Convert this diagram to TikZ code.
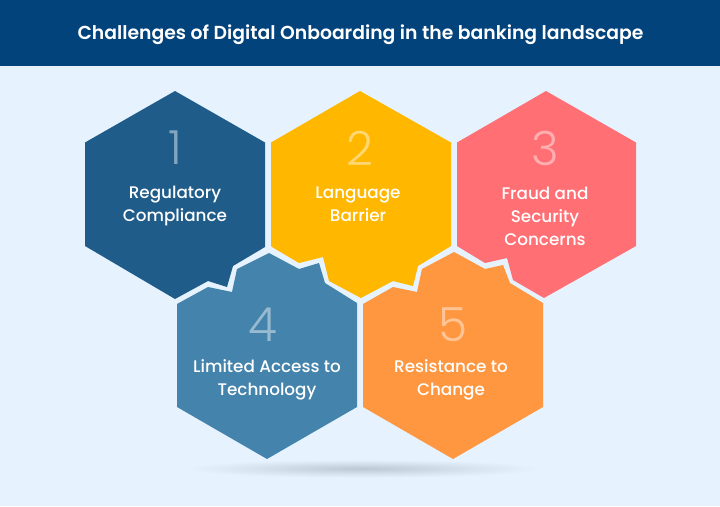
\documentclass[tikz,border=0pt]{standalone}
\usepackage{fontspec}
\setmainfont{Poppins}
\newfontfamily\numfont{Poppins Light}
\newfontfamily\labfont{Poppins Medium}
\newfontfamily\titfont{Poppins SemiBold}
\definecolor{bgc}{HTML}{E6F3FE}
\definecolor{headc}{HTML}{03437B}
\definecolor{hexa}{HTML}{1F5C8A}
\definecolor{hexb}{HTML}{FFB700}
\definecolor{hexc}{HTML}{FF6F73}
\definecolor{hexd}{HTML}{4483AB}
\definecolor{hexe}{HTML}{FF9741}
\definecolor{shadc}{HTML}{BCC8D4}
\pgfdeclareradialshading{floorshadow}{\pgfpointorigin}{color(0bp)=(shadc); color(8bp)=(shadc!65!bgc); color(16bp)=(shadc!30!bgc); color(24bp)=(bgc); color(50bp)=(bgc)}
\tikzset{
  label/.style={text=white,align=center,font=\labfont\fontsize{16.8}{23}\selectfont,inner sep=0pt},
  digit/.style={text=white,text opacity=0.45,font=\numfont\fontsize{47}{47}\selectfont,inner sep=0pt},
  title/.style={text=white,font=\titfont\fontsize{18.8}{22}\selectfont,inner sep=0pt}
}
\begin{document}
\begin{tikzpicture}[x=1pt,y=-1pt]
\useasboundingbox (0,0) rectangle (720,506);
\fill[bgc] (0,0) rectangle (720,506);
\fill[headc] (0,0) rectangle (720,66);
\shade[shading=floorshadow] (362,468.5) ellipse [x radius=185,y radius=9.5];
% hexagons
\fill[hexa] (175,91) -- (265,142.5) -- (265,247) -- (233,266) -- (227,287) -- (208,281) -- (175,299) -- (85,246) -- (85,142.5) -- cycle;
\fill[hexb] (360,91) -- (451,142.5) -- (451,246) -- (418,266) -- (413,286) -- (393,281) -- (361,298) -- (329,281) -- (323,257) -- (299,263) -- (272,247) -- (271,246) -- (271,142.5) -- cycle;
\fill[hexc] (546,91) -- (636,142.5) -- (636,246) -- (544,298) -- (513,280) -- (507,258) -- (485,263) -- (457,246) -- (457,142.5) -- cycle;
\fill[hexd] (269,253) -- (299,269) -- (319,263) -- (325,283) -- (357,303) -- (357,407) -- (267,459) -- (177,407) -- (177,304) -- (208,287) -- (232,292) -- (237,269) -- cycle;
\fill[hexe] (454,252) -- (485,269) -- (503,265) -- (510,283) -- (543,303) -- (543,407) -- (453,459) -- (363,407) -- (363,304) -- (393,287) -- (417,292) -- (422,269) -- cycle;
% digits
\node[digit] (d1) at (175,148) {1};
\node[digit] (d2) at (360,148) {2};
\node[digit] (d3) at (545,148) {3};
\node[digit] (d4) at (263,325) {4};
\node[digit] (d5) at (453,325) {5};
% labels
\node[label] (l1) at (175,206) {Regulatory\\Compliance};
\node[label] (l2) at (358,204) {Language\\Barrier};
\node[label] (l3) at (545,216) {Fraud and\\Security\\Concerns};
\node[label] (l4) at (267,380) {Limited Access to\\Technology};
\node[label] (l5) at (451,380) {Resistance to\\Change};
\node[title] (t) at (360.5,34.5) {Challenges of Digital Onboarding in the banking landscape};
\end{tikzpicture}
\end{document}
